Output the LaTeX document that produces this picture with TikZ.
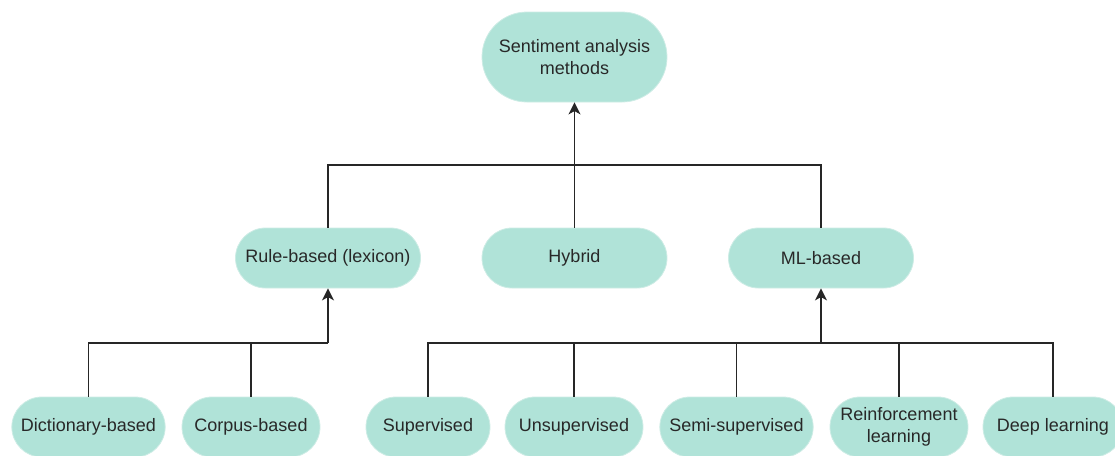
\documentclass[tikz,border=0pt]{standalone}
\usepackage{fontspec}
\setmainfont{Liberation Sans}
\usetikzlibrary{arrows.meta}
\definecolor{boxfill}{RGB}{176,227,216}
\definecolor{boxline}{RGB}{205,236,229}
\definecolor{txt}{RGB}{40,40,40}
\begin{document}
\begin{tikzpicture}[x=0.75pt,y=-0.75pt,
  box/.style={draw=boxline, line width=0.6pt, fill=boxfill, rounded corners=22.5pt,
    inner sep=0pt, align=center, text=txt, font=\fontsize{13.5pt}{16.5pt}\selectfont,
    minimum height=45pt},
  conn/.style={line width=1.1pt, black!85},
  arr/.style={conn, -{Stealth[length=9pt,width=9pt,inset=2.5pt]}}]
\useasboundingbox (0,0) rectangle (1115,455);
\clip (0,0) rectangle (1115,455);
% top
\node[box, minimum width=138.75pt, minimum height=67.5pt, rounded corners=33.75pt] (top) at (574.5,57) {Sentiment analysis\\methods};
% middle row
\node[box, minimum width=138.75pt] (rule) at (328,258) {Rule-based (lexicon)};
\node[box, minimum width=138.75pt] (hyb) at (574.5,258) {Hybrid};
\node[box, minimum width=138.75pt] (ml) at (821,258) {ML-based};
% bottom row
\node[box, minimum width=115pt] (dict) at (88.5,427) {Dictionary-based};
\node[box, minimum width=103.5pt] (corp) at (251,427) {Corpus-based};
\node[box, minimum width=93pt] (sup) at (428,427) {Supervised};
\node[box, minimum width=103.5pt] (uns) at (574,427) {Unsupervised};
\node[box, minimum width=115pt] (semi) at (736.5,427) {Semi-supervised};
\node[box, minimum width=103.5pt] (rein) at (899,427) {Reinforcement\\learning};
\node[box, minimum width=105pt] (deep) at (1053,427) {Deep learning};
% junctions
\coordinate (j1) at (574.5,165);
\coordinate (j2) at (328,343);
\coordinate (j3) at (821,343);
% connectors
\draw[conn] (rule.north) |- (j1);
\draw[conn] (ml.north) |- (j1);
\draw[arr] (hyb.north) -- (top.south);
\draw[conn] (dict.north) |- (j2);
\draw[conn] (corp.north) |- (j2);
\draw[arr] (j2) -- (rule.south);
\draw[conn] (sup.north) |- (j3);
\draw[conn] (uns.north) |- (j3);
\draw[conn] (semi.north) |- (j3);
\draw[conn] (rein.north) |- (j3);
\draw[conn] (deep.north) |- (j3);
\draw[arr] (j3) -- (ml.south);
\end{tikzpicture}
\end{document}
